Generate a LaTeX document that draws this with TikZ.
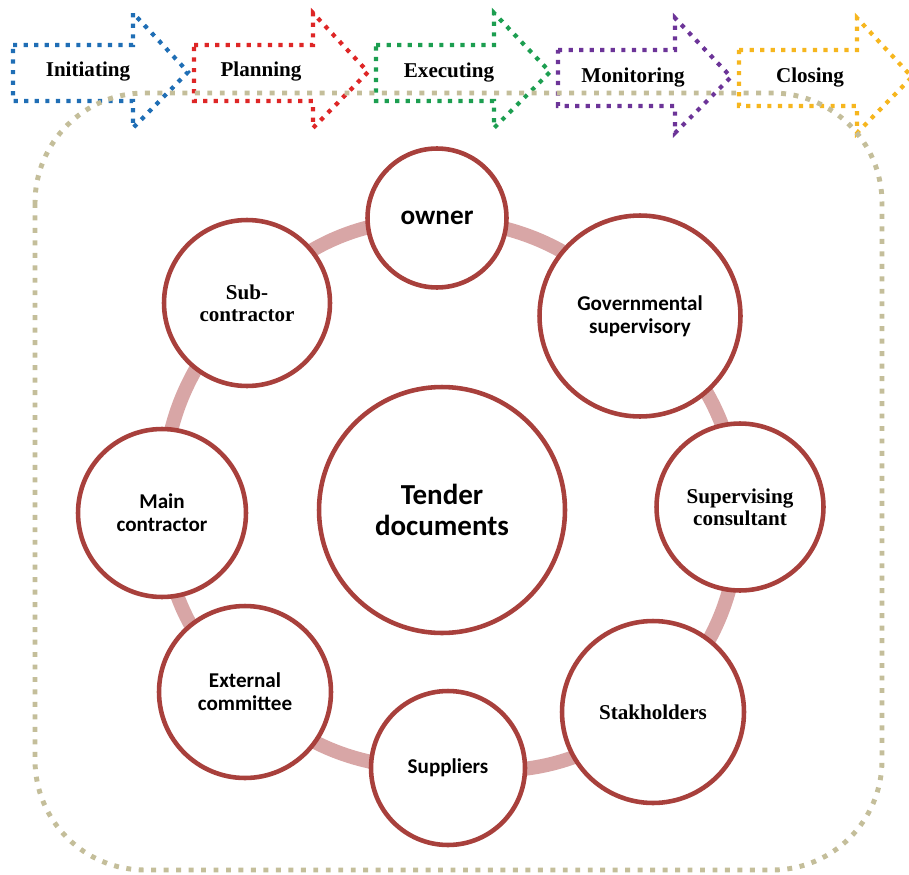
\documentclass[tikz,border=0pt]{standalone}
\usepackage{fontspec}
\setmainfont{Liberation Serif}
\newfontfamily\calibrifont{Carlito}
\usetikzlibrary{positioning}
\definecolor{tdRed}{RGB}{168,64,60}
\definecolor{tdPink}{RGB}{216,166,166}
\definecolor{tdTan}{RGB}{196,190,154}
\definecolor{phBlue}{RGB}{31,110,181}
\definecolor{phRed}{RGB}{222,38,38}
\definecolor{phGreen}{RGB}{28,158,80}
\definecolor{phPurple}{RGB}{108,52,152}
\definecolor{phYellow}{RGB}{246,182,30}
\pgfdeclarelayer{background}
\pgfsetlayers{background,main}

\tikzset{
  party/.style={circle, draw=tdRed, line width=2.6pt, fill=white, inner sep=0pt,
    outer sep=0pt, align=center, font=\bfseries\fontsize{12}{12.6}\selectfont},
  sans party/.style={party, font=\calibrifont\bfseries\fontsize{12}{13.2}\selectfont},
  ringlink/.style={draw=tdPink, line width=8pt},
  phasebox/.style={line width=2.4pt, dash pattern=on 2.4pt off 3.6pt},
  phase label/.style={font=\bfseries\fontsize{12}{14}\selectfont},
  tanframe/.style={draw=tdTan, line width=2.8pt, dash pattern=on 2.8pt off 4.3pt,
    rounded corners=2.2cm},
}

% block arrow: colour, left x, neck x, tip x, vertical shift
\newcommand{\phasearrow}[5]{%
  \draw[phasebox, draw=#1, shift={(0,#5)}]
    (#2,45) -- (#3,45) -- (#3,13) -- (#4,72) -- (#3,128) -- (#3,101) -- (#2,101) -- cycle;}

\begin{document}
\begin{tikzpicture}[x=0.02cm, y=-0.02cm]
    \useasboundingbox (0,0) rectangle (909,875);

    % Project phases along the top
    \phasearrow{phBlue}{13}{133}{188}{0}
    \phasearrow{phRed}{194}{313}{368}{0}
    \phasearrow{phGreen}{376}{494}{550}{0}
    \phasearrow{phPurple}{558}{675}{731}{5}
    \phasearrow{phYellow}{739}{857}{912}{5}
    \node[phase label] (initiating) at (88,72) {Initiating};
    \node[phase label] (planning) at (261,72) {Planning};
    \node[phase label] (executing) at (449,73) {Executing};
    \node[phase label] (monitoring) at (633,78) {Monitoring};
    \node[phase label] (closing) at (810,78) {Closing};

    % Dotted frame
    \draw[tanframe] (35,93) rectangle (882,870);

    % Tender documents in the middle
    \node[sans party, minimum size=4.92cm,
      font=\calibrifont\bfseries\fontsize{16.5}{18}\selectfont] (tender) at (442,510) {Tender\\documents};

    % Parties around the ring
    \node[sans party, minimum size=2.78cm,
      font=\calibrifont\bfseries\fontsize{15.5}{17}\selectfont] (owner) at (437,218) {owner};
    \node[sans party, minimum size=4.02cm] (gov) at (640,316) {Governmental\\supervisory};
    \node[party, minimum size=3.34cm] (supcons) at (740,507) {Supervising\\consultant};
    \node[party, minimum size=3.64cm] (stake) at (653,712) {Stakholders};
    \node[sans party, minimum size=3.08cm] (suppliers) at (448,768) {Suppliers};
    \node[sans party, minimum size=3.44cm] (external) at (245,692) {External\\committee};
    \node[sans party, minimum size=3.36cm] (maincon) at (162,513) {Main\\contractor};
    \node[party, minimum size=3.32cm] (subcon) at (247,303) {Sub-\\contractor};

    % Ring linking the parties (centre to centre, under the circles)
    \begin{pgfonlayer}{background}
      \foreach \a/\b in {owner/gov, gov/supcons, supcons/stake, stake/suppliers,
                         suppliers/external, external/maincon, maincon/subcon, subcon/owner}
        \draw[ringlink] (\a.center) to[bend left=22] (\b.center);
    \end{pgfonlayer}
\end{tikzpicture}
\end{document}
